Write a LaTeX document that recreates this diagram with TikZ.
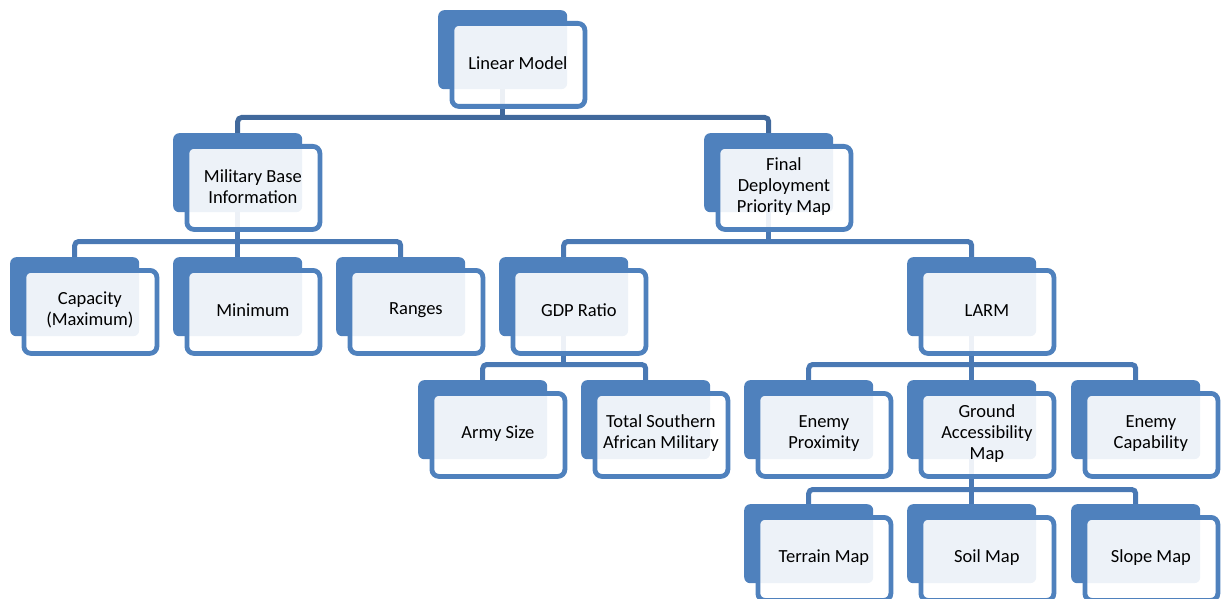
\documentclass[tikz,border=0pt]{standalone}
\usepackage{fontspec}
\setmainfont{Carlito}
\pgfdeclarelayer{bg}
\pgfsetlayers{bg,main}
\definecolor{acc}{HTML}{4F81BD}
\definecolor{connA}{HTML}{41699C}
\definecolor{connB}{HTML}{4A79B4}
\tikzset{
  backbox/.style={rectangle, rounded corners=6pt, fill=acc, draw=none, minimum width=129pt, minimum height=79pt, inner sep=0pt},
  frontbox/.style={rectangle, rounded corners=7pt, fill=white, fill opacity=0.9, draw=acc, line width=4.8pt, minimum width=133pt, minimum height=83pt, inner sep=0pt},
  txt/.style={align=center, text=black, font=\fontsize{18.5}{21}\selectfont, inner sep=0pt},
  connone/.style={draw=connA, line width=5pt, rounded corners=4pt},
  conntwo/.style={draw=connB, line width=5pt, rounded corners=4pt}
}
\newcommand{\orgbox}[4]{%
  \node[backbox, anchor=north west] (#1) at (#2,#3) {};
  \node[frontbox, anchor=north west] (#1-f) at ([xshift=11.5pt,yshift=-11pt]#1.north west) {};
  \node[txt] (#1-t) at ([yshift=1.5pt,xshift=-0.5pt]#1-f.center) {#4};
}
\begin{document}
\begin{tikzpicture}[x=1pt,y=-1pt]
\useasboundingbox (0,0) rectangle (1223,599);
\orgbox{lm}{438}{10}{Linear Model}
\orgbox{mb}{173}{133}{Military Base\\Information}
\orgbox{fd}{704}{133}{Final\\Deployment\\Priority Map}
\orgbox{cap}{10}{257}{Capacity\\(Maximum)}
\orgbox{mn}{173}{257}{Minimum}
\orgbox{rng}{336}{257}{Ranges}
\orgbox{gdp}{499}{257}{GDP Ratio}
\orgbox{larm}{907}{257}{LARM}
\orgbox{army}{418}{380}{Army Size}
\orgbox{tsa}{581}{380}{Total Southern\\African Military}
\orgbox{ep}{744}{380}{Enemy\\Proximity}
\orgbox{gam}{907}{380}{Ground\\Accessibility\\Map}
\orgbox{ec}{1071}{380}{Enemy\\Capability}
\orgbox{ter}{744}{504}{Terrain Map}
\orgbox{soil}{907}{504}{Soil Map}
\orgbox{slope}{1071}{504}{Slope Map}
\begin{pgfonlayer}{bg}
  % level 1
  \coordinate (b1) at ([yshift=15.5pt]mb.north);
  \draw[connone] (mb.north) -- (b1) -- (b1 -| fd.north) -- (fd.north);
  \draw[connone] (lm.south) -- (lm.south |- b1);
  % military base
  \coordinate (b2) at ([yshift=15.5pt]cap.north);
  \draw[conntwo] (cap.north) -- (b2) -- (b2 -| rng.north) -- (rng.north);
  \draw[conntwo] (mb.south) -- (mn.north);
  % final deployment
  \coordinate (b3) at ([yshift=15.5pt]gdp.north);
  \draw[conntwo] (gdp.north) -- (b3) -- (b3 -| larm.north) -- (larm.north);
  \draw[conntwo] (fd.south) -- (fd.south |- b3);
  % gdp
  \coordinate (b4) at ([yshift=15.5pt]army.north);
  \draw[conntwo] (army.north) -- (b4) -- (b4 -| tsa.north) -- (tsa.north);
  \draw[conntwo] (gdp.south) -- (gdp.south |- b4);
  % larm
  \coordinate (b5) at ([yshift=15.5pt]ep.north);
  \draw[conntwo] (ep.north) -- (b5) -- (b5 -| ec.north) -- (ec.north);
  \draw[conntwo] (larm.south) -- (gam.north);
  % gam
  \coordinate (b6) at ([yshift=14.5pt]ter.north);
  \draw[conntwo] (ter.north) -- (b6) -- (b6 -| slope.north) -- (slope.north);
  \draw[conntwo] (gam.south) -- (soil.north);
\end{pgfonlayer}
\end{tikzpicture}
\end{document}
